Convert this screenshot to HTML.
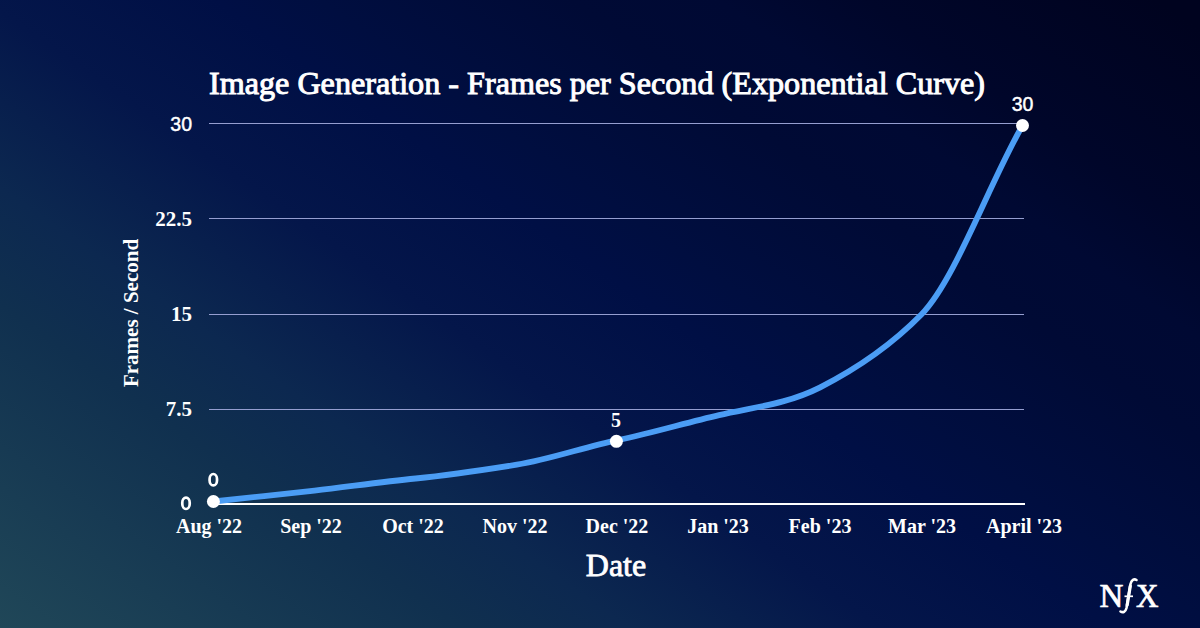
<!DOCTYPE html>
<html><head><meta charset="utf-8">
<style>
html,body{margin:0;padding:0;width:1200px;height:628px;overflow:hidden;}
body{background:linear-gradient(35deg,#204758 0%,#10304f 22%,#0c2850 30%,#04164a 42%,#000f45 53%,#000e40 58%,#000a35 70%,#000933 77%,#00062a 84%,#00031f 98%);}
svg{position:absolute;left:0;top:0;}
.t{font-family:"Liberation Serif",serif;fill:#fff;}
.s{font-family:"Liberation Sans",sans-serif;fill:#fff;}
</style></head><body>
<svg width="1200" height="628" viewBox="0 0 1200 628">
<text class="t" x="209" y="94" font-size="32" stroke="#fff" stroke-width="1" textLength="776" lengthAdjust="spacingAndGlyphs">Image Generation - Frames per Second (Exponential Curve)</text>
<g stroke="#959ed0" stroke-width="1">
<line x1="209" y1="123.5" x2="1024" y2="123.5"/>
<line x1="209" y1="218.5" x2="1024" y2="218.5"/>
<line x1="209" y1="314.5" x2="1024" y2="314.5"/>
<line x1="209" y1="409.5" x2="1024" y2="409.5"/>
</g>
<rect x="209" y="503" width="816" height="2" fill="#fff"/>
<g class="t" font-size="21" font-weight="bold" text-anchor="end">
<text x="192" y="226">22.5</text>
<text x="192" y="321">15</text>
<text x="192" y="416">7.5</text>
</g>
<g class="s" font-size="19.5" stroke="#fff" stroke-width="0.45" text-anchor="end">
<text x="192" y="131">30</text>
</g>
<path d="M213.4,501.5 C247.1,497.6 280.8,494.6 314.5,490.7 C348.3,486.8 382.0,481.8 415.7,478.5 C449.4,475.2 483.1,470.1 516.8,464.7 C550.5,459.3 584.2,447.0 618.0,440.1 C651.7,433.1 685.4,422.9 719.1,415.1 C752.8,407.2 786.5,404.4 820.2,387.3 C854.0,370.1 887.7,348.8 921.4,314.5 C955.1,280.1 988.8,184.3 1022.5,125.5" fill="none" stroke="#4b9df5" stroke-width="5.8" stroke-linecap="round" stroke-linejoin="round"/>
<g fill="none" stroke="#fff" stroke-width="2.7">
<rect x="182.3" y="497.6" width="7.4" height="11.4" rx="3.7" ry="5"/>
<rect x="209.6" y="474" width="7.4" height="11.4" rx="3.7" ry="5"/>
</g>
<g fill="#fff">
<circle cx="213.4" cy="501.5" r="6.5"/>
<circle cx="616.4" cy="441.3" r="6.5"/>
<circle cx="1022.5" cy="125.5" r="6.5"/>
</g>
<g class="s" font-size="19.5" stroke="#fff" stroke-width="0.45" text-anchor="middle">
<text x="1022.5" y="111">30</text>
</g>
<text class="t" x="616" y="427" font-size="20" font-weight="bold" text-anchor="middle">5</text>
<g class="t" font-size="20" font-weight="bold" text-anchor="middle">
<text x="209" y="533">Aug '22</text>
<text x="311" y="533">Sep '22</text>
<text x="413" y="533">Oct '22</text>
<text x="515" y="533">Nov '22</text>
<text x="617" y="533">Dec '22</text>
<text x="718" y="533">Jan '23</text>
<text x="820" y="533">Feb '23</text>
<text x="922" y="533">Mar '23</text>
<text x="1024" y="533">April '23</text>
</g>
<text class="t" x="616" y="576" font-size="32" stroke="#fff" stroke-width="0.8" text-anchor="middle">Date</text>
<text class="t" font-size="21" font-weight="bold" text-anchor="middle" transform="translate(137.5,313) rotate(-90)">Frames / Second</text>
<g class="t" font-size="33" stroke="#fff" stroke-width="0.7">
<text x="1099.5" y="606.5">N</text>
<text x="1136" y="606.5" textLength="22.5" lengthAdjust="spacingAndGlyphs">X</text>
</g>
<path d="M1136.5,580 C1134,578.5 1131.5,580 1130.5,584 L1126.5,608 C1125.5,612 1123,613 1120.5,611.5" fill="none" stroke="#fff" stroke-width="2.6" stroke-linecap="round"/>
<path d="M1130.3,586 L1127.2,605" stroke="#fff" stroke-width="3.2" stroke-linecap="round"/>
<path d="M1124.5,596.3 L1133,596.3" stroke="#fff" stroke-width="1.7"/>
</svg>
</body></html>
